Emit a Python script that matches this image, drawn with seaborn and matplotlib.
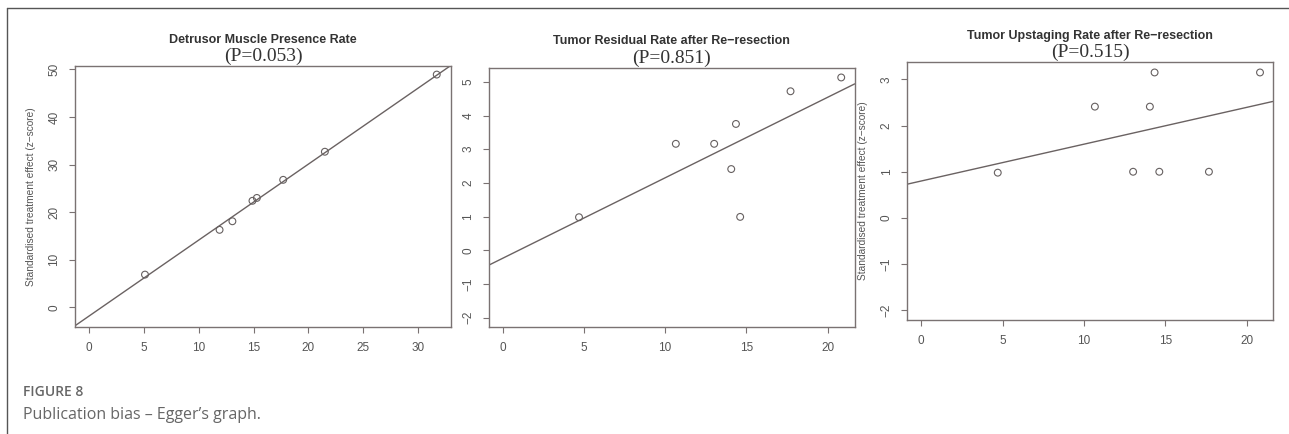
import matplotlib
matplotlib.use("Agg")
import matplotlib.pyplot as plt
import seaborn as sns
import numpy as np
import pandas as pd

# ---------------- data ----------------
titles = ["Detrusor Muscle Presence Rate",
          "Tumor Residual Rate after Re\u2212resection",
          "Tumor Upstaging Rate after Re\u2212resection"]
p_labels = ["(P=0.053)", "(P=0.851)", "(P=0.515)"]

precision_1 = [5.1, 11.9, 13.07, 14.9, 15.3, 17.7, 21.5, 31.7]
zscore_1 = [6.9, 16.3, 18.1, 22.4, 23.0, 26.8, 32.7, 48.9]
reg_1 = (-1.8, 1.595)   # intercept, slope

precision_2 = [4.7, 10.66, 13.02, 14.07, 14.36, 14.62, 17.72, 20.84]
zscore_2 = [0.98, 3.16, 3.16, 2.41, 3.75, 0.99, 4.72, 5.13]
reg_2 = (-0.24, 0.239)

precision_3 = [4.7, 10.67, 13.02, 14.05, 14.34, 14.63, 17.68, 20.82]
zscore_3 = [0.98, 2.41, 1.0, 2.41, 3.15, 1.0, 1.0, 3.15]
reg_3 = (0.80, 0.0797)

xticks_1 = [0, 5, 10, 15, 20, 25, 30]
yticks_1 = [0, 10, 20, 30, 40, 50]
xticks_23 = [0, 5, 10, 15, 20]
yticks_2 = [-2, -1, 0, 1, 2, 3, 4, 5]
yticks_3 = [-2, -1, 0, 1, 2, 3]

ylabel = "Standardised treatment effect (z\u2212score)"
caption_head = "FIGURE 8"
caption_text = "Publication bias \u2013 Egger\u2019s graph."

# ---------------- style ----------------
sns.set_style("white")
plt.rcParams['font.family'] = ['Liberation Sans', 'DejaVu Sans']

W, H = 1289, 434
fig = plt.figure(figsize=(W / 100, H / 100), dpi=100)

def rect(l, r, t, b):
    return [l / W, 1 - b / H, (r - l) / W, (b - t) / H]

panels = [
    dict(x=precision_1, y=zscore_1, reg=reg_1, pos=rect(75, 451, 66, 327),
         xlim=(-1.28, 33.0), ylim=(-4.1, 50.7), xt=xticks_1, yt=yticks_1, ylab=True),
    dict(x=precision_2, y=zscore_2, reg=reg_2, pos=rect(489, 854.7, 67.7, 327),
         xlim=(-0.84, 21.67), ylim=(-2.28, 5.42), xt=xticks_23, yt=yticks_2, ylab=False),
    dict(x=precision_3, y=zscore_3, reg=reg_3, pos=rect(907.3, 1272.7, 62.3, 320),
         xlim=(-0.86, 21.6), ylim=(-2.21, 3.37), xt=xticks_23, yt=yticks_3, ylab=True),
]

box_col = "#7a7272"
line_col = "#6a6262"
txt_col = "#555555"

for i, p in enumerate(panels):
    ax = fig.add_axes(p["pos"])
    df = pd.DataFrame({"precision": p["x"], "z": p["y"]})
    sns.scatterplot(data=df, x="precision", y="z", ax=ax, marker="o", s=24,
                    facecolors="none", edgecolor="#666060", linewidth=0.8, zorder=3)
    b0, b1 = p["reg"]
    ax.axline((0, b0), slope=b1, color=line_col, lw=1.0, zorder=2)
    ax.set_xlim(*p["xlim"])
    ax.set_ylim(*p["ylim"])
    ax.set_xticks(p["xt"])
    ax.set_yticks(p["yt"])
    ax.set_xticklabels([str(v) for v in p["xt"]])
    ax.set_yticklabels([str(v).replace("-", "\u2212") for v in p["yt"]], rotation=90, va="center")
    ax.tick_params(axis="both", which="major", direction="out", length=4.5, width=0.8,
                   color=box_col, labelsize=8.5, labelcolor=txt_col, pad=6, bottom=True, left=True)
    ax.set_xlabel("")
    ax.set_ylabel(ylabel if p["ylab"] else "", fontsize=7.3, color=txt_col, labelpad=9)
    for s in ax.spines.values():
        s.set_color(box_col)
        s.set_linewidth(1.0)
    ax.annotate(titles[i], xy=(0.5, 1), xycoords="axes fraction", xytext=(0, 19),
                textcoords="offset points", ha="center", va="center",
                fontsize=9, fontweight="bold", color="#333333")
    ax.annotate(p_labels[i], xy=(0.5, 1), xycoords="axes fraction", xytext=(0, 7),
                textcoords="offset points", ha="center", va="center",
                fontsize=14, color="#333333", family=["Liberation Serif", "DejaVu Serif"])

# outer frame (left and top lines)
fig.add_artist(plt.Line2D([7 / W, 7 / W], [0, 1 - 8 / H], transform=fig.transFigure,
                          color="#555555", lw=1.0))
fig.add_artist(plt.Line2D([7 / W, 1], [1 - 8 / H, 1 - 8 / H], transform=fig.transFigure,
                          color="#555555", lw=1.0))

fig.text(23 / W, 1 - 392 / H, caption_head, fontsize=10, color="#666666",
         family=["Open Sans", "DejaVu Sans"], fontweight="semibold", va="center", ha="left")
fig.text(23 / W, 1 - 415 / H, caption_text, fontsize=11.5, color="#666666",
         family=["Open Sans", "DejaVu Sans"], va="center", ha="left")

fig.savefig("out.png", dpi=100)
